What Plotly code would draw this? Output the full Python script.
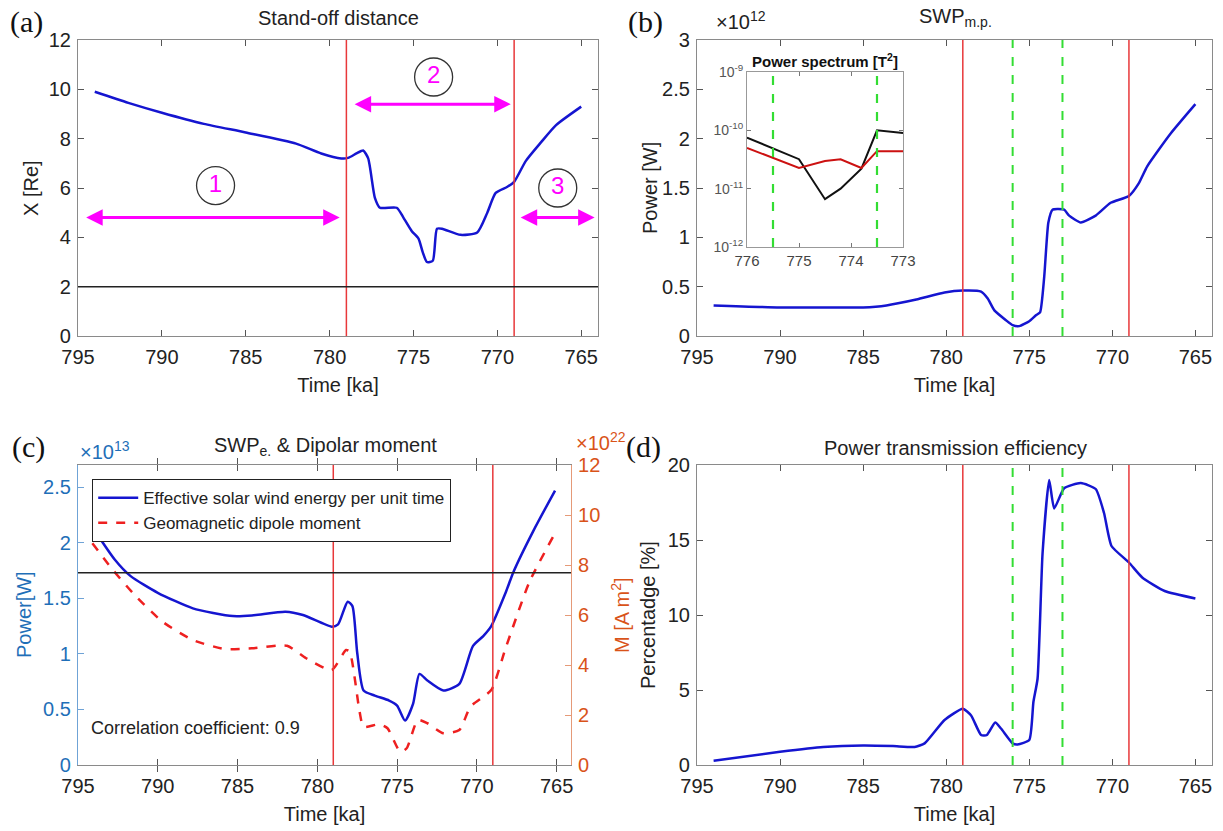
import plotly.graph_objects as go

# ---------------- data ----------------
# (a) Stand-off distance
t_a = [794, 792, 790, 787.5, 785, 782, 780.5, 779.3, 778.9, 778.4, 778.0, 777.7, 777.3, 777.0,
       776.0, 775.6, 775.1, 774.7, 774.45, 774.2, 773.85, 773.6, 773.3, 772.2, 771.2, 770.6,
       770.1, 769.4, 769.0, 768.3, 767.4, 766.5, 765]
x_a = [9.9, 9.45, 9.05, 8.6, 8.25, 7.8, 7.4, 7.2, 7.22, 7.4, 7.52, 7.2, 5.6, 5.2,
       5.2, 4.8, 4.25, 3.95, 3.4, 3.0, 3.05, 4.35, 4.35, 4.1, 4.2, 5.0,
       5.8, 6.05, 6.25, 7.1, 7.85, 8.55, 9.3]

# (b) SWP m.p. (x1e12 W)
t_b = [794, 790, 785, 783.6, 781.8, 780.1, 779, 777.9, 777.5, 777.1, 776.4, 776, 775.6, 775.0,
       774.6, 774.35, 774.1, 773.85, 773.6, 772.9, 772.6, 771.9, 771, 770.1, 769, 768.4, 767.9,
       766.5, 765]
p_b = [0.31, 0.29, 0.29, 0.31, 0.37, 0.44, 0.46, 0.45, 0.38, 0.26, 0.16, 0.11, 0.10, 0.15,
       0.21, 0.24, 0.6, 1.15, 1.28, 1.28, 1.22, 1.15, 1.22, 1.35, 1.42, 1.55, 1.72,
       2.05, 2.35]

# inset: power spectrum
t_s = [776, 775, 774.5, 774.2, 773.8, 773.5, 773]
spec_black = [7.5e-11, 3.2e-11, 6.6e-12, 1.0e-11, 2.2e-11, 1.0e-10, 9.0e-11]
spec_red = [5.0e-11, 2.26e-11, 2.98e-11, 3.18e-11, 2.26e-11, 4.4e-11, 4.4e-11]
shade_orange = [776, 774.5]
shade_green = [774.5, 773]
inset_green = [775.5, 773.5]
inset_yticks = [1e-12, 1e-11, 1e-10, 1e-9]
inset_ylabels = ["10<sup>-12</sup>", "10<sup>-11</sup>", "10<sup>-10</sup>", "10<sup>-9</sup>"]

# (c) SWP e. (x1e13 W) and dipole moment (x1e22 A m^2)
t_c = [794, 792.7, 791.7, 790, 787.8, 785.3, 784.1, 782, 780.9, 779.1, 778.7, 778.1, 777.8,
       777.5, 777.1, 776.4, 775.5, 775.0, 774.5, 774.0, 773.6, 773.1, 772.1, 771.1, 770.25,
       769.6, 769.1, 768.2, 767.7, 766.45, 765.1]
p_c = [2.12, 1.85, 1.70, 1.55, 1.41, 1.34, 1.345, 1.38, 1.35, 1.245, 1.265, 1.47, 1.43,
       1.01, 0.67, 0.625, 0.58, 0.535, 0.40, 0.55, 0.82, 0.76, 0.67, 0.73, 1.07,
       1.16, 1.25, 1.55, 1.74, 2.11, 2.47]
t_m = [794.1, 792.9, 791.45, 789.7, 787.8, 785.8, 784.1, 781.9, 780.7, 779.1, 778.2, 777.97,
       777.35, 777.1, 776.1, 775.6, 774.8, 774.4, 773.7, 773.1, 772.1, 771.1, 770.4, 769.1,
       768.2, 766.7, 765.1]
m_c = [8.87, 7.87, 6.8, 5.73, 5.0, 4.64, 4.67, 4.77, 4.27, 3.8, 4.6, 4.53,
       2.13, 1.53, 1.63, 1.47, 0.53, 0.67, 1.8, 1.67, 1.27, 1.4, 2.33, 3.0,
       4.67, 7.33, 9.27]

# (d) Power transmission efficiency (%)
t_d = [794, 790, 787.4, 785, 783.2, 781.9, 781.3, 780.1, 779, 778.5, 777.9, 777.55, 777.05,
       776.7, 776, 775.7, 775, 774.75, 774.5, 774.2, 773.8, 773.5, 772.9, 771.9, 771.0, 770.5,
       770.05, 769, 768.2, 766.85, 765]
e_d = [0.29, 0.88, 1.2, 1.3, 1.26, 1.2, 1.44, 3.0, 3.75, 3.3, 2.0, 2.0, 2.83,
       2.43, 1.44, 1.37, 1.66, 4.2, 5.75, 14.1, 19.0, 17.1, 18.45, 18.8, 18.4, 16.8,
       14.6, 13.5, 12.5, 11.6, 11.1]

red_lines = [779, 769]
green_lines = [776, 773]
thresh_a = 2
thresh_c = 1.73

circle_x = [786.8, 773.8, 766.4]
circle_y = [6.1, 10.5, 6.0]
circle_txt = ["1", "2", "3"]
arrows = [(794.6, 779.4, 4.8), (778.6, 769.2, 9.4), (768.7, 764.2, 4.8)]

time_ticks = [795, 790, 785, 780, 775, 770, 765]

# ---------------- layout helpers ----------------
W, H = 1223, 831
def px_x(a, b):
    return [a / W, b / W]
def px_y(top, bottom):
    return [1 - bottom / H, 1 - top / H]

FONT = "Liberation Sans"
BLUE = "#1515d0"
LBLUE = "#1f6fb8"
ORANGE = "#d95319"
RED = "#e8383a"
GREEN = "#33dd33"
TXT = "#222222"

def xax(domain, anchor, rng=(795, 764)):
    return dict(domain=domain, anchor=anchor, range=list(rng), tickvals=time_ticks, automargin=False,
                ticks="inside", ticklen=6, tickcolor="#555", showline=True, linecolor="#8a8a8a",
                linewidth=1.2, mirror="allticks", showgrid=False, zeroline=False, ticklabelstandoff=3,
                tickfont=dict(family=FONT, size=20, color=TXT),
                title=dict(text="Time [ka]", font=dict(family=FONT, size=20, color=TXT), standoff=10))

def yax(domain, anchor, rng, tickvals, color=TXT, linecolor="#8a8a8a", mirror="allticks"):
    return dict(domain=domain, anchor=anchor, range=rng, tickvals=tickvals, automargin=False,
                ticks="inside", ticklen=6, tickcolor=linecolor if color != TXT else "#555",
                showline=True, linecolor=linecolor, linewidth=1.2, mirror=mirror,
                showgrid=False, zeroline=False, ticklabelstandoff=2,
                tickfont=dict(family=FONT, size=20, color=color))

fig = go.Figure()

# (a)
fig.add_trace(go.Scatter(x=t_a, y=x_a, mode="lines", line=dict(color=BLUE, width=2.5, shape="spline", smoothing=0.6),
                         xaxis="x", yaxis="y", showlegend=False))
fig.add_trace(go.Scatter(x=circle_x, y=circle_y, mode="markers+text", text=circle_txt,
                         textposition="middle center",
                         textfont=dict(family=FONT, size=24, color="#ff00ff"),
                         marker=dict(symbol="circle-open", size=38, color="#333", line=dict(width=1.3, color="#333")),
                         xaxis="x", yaxis="y", showlegend=False))

# (b)
fig.add_trace(go.Scatter(x=t_b, y=p_b, mode="lines", line=dict(color=BLUE, width=2.5, shape="spline", smoothing=0.5),
                         xaxis="x2", yaxis="y2", showlegend=False))

# (c)
fig.add_trace(go.Scatter(x=t_c, y=p_c, mode="lines", name="Effective solar wind energy per unit time",
                         line=dict(color=BLUE, width=2.5, shape="spline", smoothing=0.6),
                         xaxis="x3", yaxis="y3"))
fig.add_trace(go.Scatter(x=t_m, y=m_c, mode="lines", name="Geomagnetic dipole moment",
                         line=dict(color="#ee2020", width=2.5, dash="dash", shape="spline", smoothing=0.6),
                         xaxis="x3", yaxis="y4"))

# (d)
fig.add_trace(go.Scatter(x=t_d, y=e_d, mode="lines", line=dict(color=BLUE, width=2.5, shape="spline", smoothing=0.5),
                         xaxis="x5", yaxis="y5", showlegend=False))

# inset
fig.add_trace(go.Scatter(x=t_s, y=spec_black, mode="lines", line=dict(color="#111", width=2),
                         xaxis="x6", yaxis="y6", showlegend=False))
fig.add_trace(go.Scatter(x=t_s, y=spec_red, mode="lines", line=dict(color="#cc1111", width=2),
                         xaxis="x6", yaxis="y6", showlegend=False))

dom_a_x = px_x(78, 598); dom_a_y = px_y(40, 336)
dom_b_x = px_x(697, 1212); dom_b_y = px_y(40, 336)
dom_c_x = px_x(78, 571); dom_c_y = px_y(465, 765)
dom_d_x = px_x(697, 1212); dom_d_y = px_y(465, 765)
dom_i_x = px_x(747, 903); dom_i_y = px_y(72, 247)

layout = dict(
    width=W, height=H, margin=dict(l=0, r=0, t=0, b=0, autoexpand=False),
    paper_bgcolor="white", plot_bgcolor="white",
    font=dict(family=FONT, color=TXT),
    xaxis=xax(dom_a_x, "y"),
    yaxis=yax(dom_a_y, "x", [0, 12], [0, 2, 4, 6, 8, 10, 12]),
    xaxis2=xax(dom_b_x, "y2"),
    yaxis2=yax(dom_b_y, "x2", [0, 3], [0, 0.5, 1, 1.5, 2, 2.5, 3]),
    xaxis3=xax(dom_c_x, "y3", (795, 764.1)),
    yaxis3=yax(dom_c_y, "x3", [0, 2.7], [0, 0.5, 1, 1.5, 2, 2.5],
               color=LBLUE, linecolor="#6fa3d6", mirror=False),
    yaxis4=dict(overlaying="y3", side="right", anchor="x3", range=[0, 12], tickvals=[0, 2, 4, 6, 8, 10, 12],
                automargin=False, ticklabelstandoff=2,
                ticks="inside", ticklen=6, tickcolor="#e59a78", showline=True, linecolor="#e59a78", linewidth=1.2,
                showgrid=False, zeroline=False, tickfont=dict(family=FONT, size=20, color=ORANGE)),
    xaxis5=xax(dom_d_x, "y5"),
    yaxis5=yax(dom_d_y, "x5", [0, 20], [0, 5, 10, 15, 20]),
    xaxis6=dict(domain=dom_i_x, anchor="y6", range=[776, 773], tickvals=[776, 775, 774, 773], automargin=False,
                ticks="inside", ticklen=4, tickcolor="#777", showline=True, linecolor="#999", mirror="allticks",
                showgrid=False, zeroline=False, tickfont=dict(family=FONT, size=15, color="#444")),
    yaxis6=dict(domain=dom_i_y, anchor="x6", type="log", range=[-12, -9], tickvals=inset_yticks,
                ticktext=inset_ylabels, automargin=False,
                ticks="inside", ticklen=4, tickcolor="#777", showline=True,
                linecolor="#999", mirror="allticks", showgrid=False, zeroline=False,
                tickfont=dict(family=FONT, size=14, color="#555")),
    legend=dict(x=92 / W, y=1 - 479 / H, xanchor="left", yanchor="top", bgcolor="white",
                bordercolor="#222", borderwidth=1.2, font=dict(family=FONT, size=17, color=TXT),
                tracegroupgap=0, itemwidth=40),
)
fig.update_layout(**layout)

shapes = []
# inset shading
shapes.append(dict(type="rect", xref="x6", yref="y6 domain", x0=shade_orange[0], x1=shade_orange[1], y0=0, y1=1,
                   fillcolor="rgba(252,228,208,0.85)", line=dict(width=0), layer="below"))
shapes.append(dict(type="rect", xref="x6", yref="y6 domain", x0=shade_green[0], x1=shade_green[1], y0=0, y1=1,
                   fillcolor="rgba(214,250,214,0.85)", line=dict(width=0), layer="below"))
for g in inset_green:
    shapes.append(dict(type="line", xref="x6", yref="y6 domain", x0=g, x1=g, y0=0, y1=1,
                       line=dict(color=GREEN, width=2.2, dash="dash")))
# red lines
for xr, yr in [("x", "y"), ("x2", "y2"), ("x3", "y3"), ("x5", "y5")]:
    for r in red_lines:
        shapes.append(dict(type="line", xref=xr, yref=yr + " domain", x0=r, x1=r, y0=0, y1=1,
                           line=dict(color=RED, width=1.5)))
for xr, yr in [("x2", "y2"), ("x5", "y5")]:
    for g in green_lines:
        shapes.append(dict(type="line", xref=xr, yref=yr + " domain", x0=g, x1=g, y0=0, y1=1,
                           line=dict(color=GREEN, width=2, dash="dash")))
# horizontal thresholds
shapes.append(dict(type="line", xref="x domain", yref="y", x0=0, x1=1, y0=thresh_a, y1=thresh_a,
                   line=dict(color="#222", width=1.5)))
shapes.append(dict(type="line", xref="x3 domain", yref="y3", x0=0, x1=1, y0=thresh_c, y1=thresh_c,
                   line=dict(color="#222", width=1.5)))
fig.update_layout(shapes=shapes)

ann = []
# arrows in (a)
for x0, x1, yv in arrows:
    ann.append(dict(xref="x", yref="y", axref="x", ayref="y", x=x1, y=yv, ax=x0, ay=yv, text="",
                    showarrow=True, arrowhead=2, startarrowhead=2, arrowside="end+start",
                    arrowsize=1.1, startarrowsize=1.1, arrowwidth=3, arrowcolor="#ff00ff"))
# titles
def title(txt, xc, yc, size=20, color=TXT, angle=0):
    ann.append(dict(xref="paper", yref="paper", x=xc / W, y=1 - yc / H, text=txt, showarrow=False,
                    textangle=angle,
                    font=dict(family=FONT, size=size, color=color), xanchor="center", yanchor="middle"))
title("Stand-off distance", 338, 18)
title("SWP<sub>m.p.</sub>", 955, 18)
title("SWP<sub>e.</sub> & Dipolar moment", 325, 446)
title("Power transmission efficiency", 955, 448)
# y-axis titles
title("X [Re]", 31, 188, angle=-90)
title("Power [W]", 650, 188, angle=-90)
title("Power[W]", 24, 615, color=LBLUE, angle=-90)
title("M [A m<sup>2</sup>]", 620, 615, color=ORANGE, angle=-90)
title("Percentadge [%]", 648, 615, angle=-90)
# panel letters
for lab, xp, yp in [("(a)", 8, 22), ("(b)", 626, 22), ("(c)", 10, 447), ("(d)", 624, 447)]:
    ann.append(dict(xref="paper", yref="paper", x=xp / W, y=1 - yp / H, text=lab, showarrow=False,
                    xanchor="left", yanchor="middle", font=dict(family="Liberation Serif", size=30, color="#111")))
# exponents
ann.append(dict(xref="paper", yref="paper", x=714 / W, y=1 - 20 / H, text="×10<sup>12</sup>", showarrow=False,
                xanchor="left", yanchor="middle", font=dict(family=FONT, size=20, color=TXT)))
ann.append(dict(xref="paper", yref="paper", x=78 / W, y=1 - 450 / H, text="×10<sup>13</sup>", showarrow=False,
                xanchor="left", yanchor="middle", font=dict(family=FONT, size=20, color=LBLUE)))
ann.append(dict(xref="paper", yref="paper", x=574 / W, y=1 - 441 / H, text="×10<sup>22</sup>", showarrow=False,
                xanchor="left", yanchor="middle", font=dict(family=FONT, size=20, color=ORANGE)))
# inset title
ann.append(dict(xref="paper", yref="paper", x=825 / W, y=1 - 60 / H, text="<b>Power spectrum [T<sup>2</sup>]</b>",
                showarrow=False, xanchor="center", yanchor="middle", font=dict(family=FONT, size=15, color="#111")))
# correlation text
ann.append(dict(xref="x3", yref="y3", x=794.3, y=0.33, text="Correlation coefficient: 0.9", showarrow=False,
                xanchor="left", yanchor="middle", font=dict(family=FONT, size=18, color=TXT)))
fig.update_layout(annotations=ann)

fig.write_html("out.html", config={"displayModeBar": False},
               post_script="document.body.style.margin='0px';document.body.style.overflow='hidden';")
